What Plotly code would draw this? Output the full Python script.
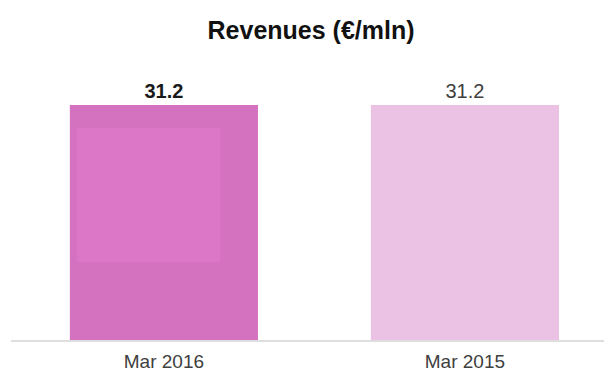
import plotly.graph_objects as go

# Revenues by period (EUR million)
periods = ["Mar 2016", "Mar 2015"]
revenues = [31.2, 31.2]
bar_colors = ["#D472C0", "#ECC2E4"]
label_colors = ["#1a1a1a", "#404040"]

labels = [f"<b>{revenues[0]}</b>", f"{revenues[1]}"]

fig = go.Figure(
    go.Bar(
        x=periods,
        y=revenues,
        marker=dict(color=bar_colors, line=dict(width=0)),
        width=0.625,
        text=labels,
        textposition="outside",
        textfont=dict(family="Liberation Sans, Arial, sans-serif", size=20, color=label_colors),
        cliponaxis=False,
        hoverinfo="skip",
    )
)

# soft highlight panel inside the first bar
fig.add_shape(
    type="rect", xref="paper", yref="paper",
    x0=0.111, x1=0.353, y0=0.279, y1=0.757,
    fillcolor="#DC76C6", line=dict(width=0), layer="above",
)

fig.update_layout(
    width=604, height=374,
    margin=dict(l=11, r=0, t=60, b=34, autoexpand=False),
    paper_bgcolor="white", plot_bgcolor="white",
    showlegend=False,
    title=dict(
        text="<b>Revenues (€/mln)</b>",
        x=0.515, xanchor="center", y=0.918, yanchor="middle",
        font=dict(family="Liberation Sans, Arial, sans-serif", size=25, color="#111111"),
    ),
    xaxis=dict(
        range=[-0.508, 1.462], automargin=False,
        showline=True, linecolor="#dedede", linewidth=2,
        showgrid=False, zeroline=False,
        ticks="outside", ticklen=3, tickcolor="rgba(0,0,0,0)",
        tickfont=dict(family="Liberation Sans, Arial, sans-serif", size=19, color="#404040"),
    ),
    yaxis=dict(
        range=[0, 37.17], visible=False, showgrid=False, zeroline=False,
        automargin=False,
    ),
)

fig.write_html("out.html")
